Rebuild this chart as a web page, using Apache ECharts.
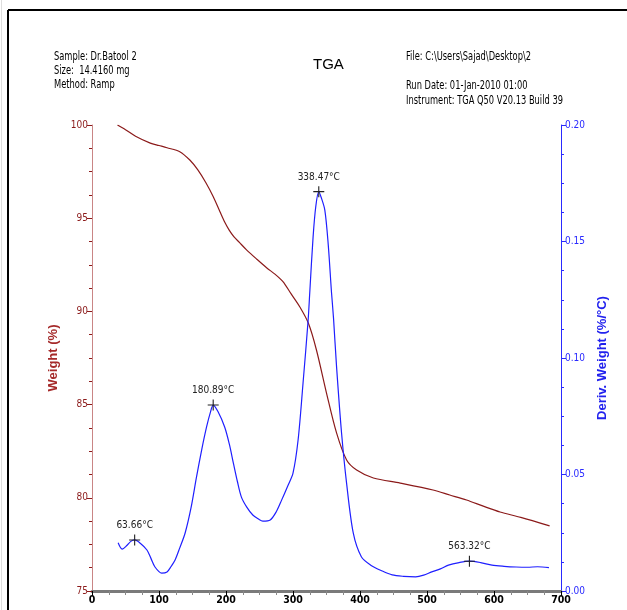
<!DOCTYPE html>
<html lang="en">
<head>
    <meta charset="UTF-8">
    <title>TGA</title>
    <style>
        html, body { margin: 0; padding: 0; background: #fff; }
        #main { width: 627px; height: 610px; }
    </style>
</head>
<body>
<div id="main"></div>
<script src="https://cdn.jsdelivr.net/npm/echarts@6/dist/echarts.min.js"></script>
<script>
    const myChart = echarts.init(document.getElementById('main'));
    const FONT = "'Liberation Sans Narrow', 'DejaVu Sans Condensed', 'Liberation Sans', sans-serif";

    // weight curve: temperature (°C) / weight (%)
    const weightTemp = [38, 50, 65, 87, 100, 112, 131, 146, 158, 170, 181, 191, 198, 205, 212, 220, 231, 246, 261, 273, 285, 297,
        310, 323, 335, 350, 365, 380, 395, 420, 460, 509, 534, 559, 584, 609, 640, 683];
    const weightVal = [100.0, 99.75, 99.4, 99.03, 98.9, 98.78, 98.57, 98.12, 97.59, 96.9, 96.15, 95.35, 94.8, 94.35, 94.0, 93.7, 93.29, 92.8, 92.33, 92.0, 91.6, 90.95,
        90.25, 89.36, 87.93, 85.62, 83.48, 82.03, 81.49, 81.06, 80.79, 80.42, 80.15, 79.88, 79.55, 79.24, 78.95, 78.49];

    // derivative curve: temperature (°C) / deriv. weight (%/°C)
    const derivTemp = [39, 45, 52, 58, 63.66, 72, 82, 88, 94, 104, 112, 118, 124, 131, 139, 148, 156, 164, 171, 177,
        180.89, 188, 198, 205, 211, 217, 223, 231, 240, 248, 255, 266, 275, 283, 292, 300, 307.6, 315, 322.6, 325,
        330, 334, 338.47, 342, 347.5, 352.5, 357.5, 360.5, 365, 372.5, 380, 390, 402, 416, 433, 448, 465, 483,
        495, 507, 520, 532, 548, 563.32, 580, 597, 615, 633, 650, 665, 682];
    const derivVal = [0.0207, 0.018, 0.0195, 0.0213, 0.0219, 0.0205, 0.0176, 0.014, 0.0103, 0.0077, 0.0082, 0.0105, 0.0133, 0.0185, 0.0249, 0.036, 0.049, 0.061, 0.0704, 0.077,
        0.0798, 0.077, 0.0704, 0.063, 0.0549, 0.047, 0.0403, 0.036, 0.0326, 0.031, 0.030, 0.0305, 0.034, 0.039, 0.045, 0.0506, 0.0648, 0.0893, 0.1163, 0.128,
        0.152, 0.165, 0.1714, 0.169, 0.1635, 0.149, 0.128, 0.117, 0.0963, 0.0677, 0.0462, 0.0248, 0.0147, 0.0111, 0.0086, 0.0069, 0.0063, 0.0061,
        0.0068, 0.0082, 0.0095, 0.0111, 0.0122, 0.0128, 0.0122, 0.0111, 0.0106, 0.0103, 0.0102, 0.0104, 0.0100];

    // labelled peaks
    const peakTemp = [63.66, 180.89, 338.47, 563.32];
    const peakVal = [0.0219, 0.0798, 0.1714, 0.0128];

    const headerLeft = ['Sample: Dr.Batool 2', 'Size:  14.4160 mg', 'Method: Ramp'];
    const headerRight = ['File: C:\\Users\\Sajad\\Desktop\\2', '', 'Run Date: 01-Jan-2010 01:00', 'Instrument: TGA Q50 V20.13 Build 39'];

    const weightData = weightTemp.map((t, i) => [t, weightVal[i]]);
    const derivData = derivTemp.map((t, i) => [t, derivVal[i]]);

    function headerLine(s, x, y) {
        return {
            type: 'text', x: x, y: y, scaleX: 0.77,
            style: {text: s, x: 0, y: 0, font: '12px ' + FONT, fill: '#000', verticalAlign: 'middle'}
        };
    }
    const headerText = [];
    headerLeft.forEach((s, i) => headerText.push(headerLine(s, 54, 57 + i * 14)));
    headerRight.forEach((s, i) => headerText.push(headerLine(s, 406, 57 + i * 14.5)));

    const option = {
        animation: false,
        backgroundColor: '#fff',
        textStyle: {fontFamily: FONT},
        graphic: [
            // page frame
            {type: 'line', shape: {x1: 8, y1: 10, x2: 627, y2: 10}, style: {stroke: '#000', lineWidth: 2}},
            {type: 'line', shape: {x1: 8, y1: 10, x2: 8, y2: 610}, style: {stroke: '#000', lineWidth: 2}},
            {type: 'line', shape: {x1: 1.5, y1: 0, x2: 1.5, y2: 610}, style: {stroke: '#ddd', lineWidth: 1}},
            {type: 'text', x: 313, y: 65, style: {text: 'TGA', x: 0, y: 0, font: '15px "Liberation Sans", Arial, sans-serif', fill: '#000', verticalAlign: 'middle'}},
            ...headerText
        ],
        grid: {left: 92, right: 66, top: 125, bottom: 19, containLabel: false, outerBoundsMode: 'none'},
        xAxis: [{
            type: 'value', min: 0, max: 700, interval: 100,
            axisLine: {show: true, onZero: false, lineStyle: {color: '#000', width: 1}},
            axisTick: {show: true, length: 5, lineStyle: {color: '#000'}},
            minorTick: {show: true, splitNumber: 4, length: 4, lineStyle: {color: '#888'}},
            splitLine: {show: false},
            axisLabel: {color: '#000', fontSize: 10.5, fontWeight: 'bold', margin: 4}
        }, {
            type: 'value', min: 0, max: 700, position: 'top',
            axisLine: {show: true, lineStyle: {color: '#7a7a7a', width: 3}},
            axisTick: {show: false}, axisLabel: {show: false}, splitLine: {show: false}
        }],
        yAxis: [{
            type: 'value', min: 75, max: 100, interval: 5, position: 'left',
            name: 'Weight (%)', nameLocation: 'middle', nameGap: 23, nameRotate: 90,
            nameTextStyle: {color: '#a52a2a', fontSize: 13, fontWeight: 'bold', fontFamily: 'Liberation Sans, Arial, sans-serif'},
            axisLine: {show: true, onZero: false, lineStyle: {color: '#c98585', width: 1}},
            axisTick: {show: true, length: 5, lineStyle: {color: '#8b1a1a'}},
            minorTick: {show: true, splitNumber: 4, length: 3, lineStyle: {color: '#8b1a1a'}},
            splitLine: {show: false},
            axisLabel: {color: '#8b1a1a', fontSize: 10, margin: 4}
        }, {
            type: 'value', min: 0, max: 0.2, interval: 0.05, position: 'right',
            name: 'Deriv. Weight (%/°C)', nameLocation: 'middle', nameGap: 32, nameRotate: 90,
            nameTextStyle: {color: '#2222ee', fontSize: 13, fontWeight: 'bold', fontFamily: 'Liberation Sans, Arial, sans-serif'},
            axisLine: {show: true, onZero: false, lineStyle: {color: '#2a2aff', width: 1}},
            axisTick: {show: true, length: 5, lineStyle: {color: '#2a2aff'}},
            minorTick: {show: true, splitNumber: 4, length: 3, lineStyle: {color: '#2a2aff'}},
            splitLine: {show: false},
            axisLabel: {color: '#2a2aff', fontSize: 10, margin: 4, formatter: v => v.toFixed(2)}
        }],
        series: [{
            name: 'Weight', type: 'line', xAxisIndex: 0, yAxisIndex: 0,
            data: weightData, smooth: 0.3, showSymbol: false,
            lineStyle: {color: '#8b1a1a', width: 1.2}
        }, {
            name: 'Deriv. Weight', type: 'line', xAxisIndex: 0, yAxisIndex: 1,
            data: derivData, smooth: 0.3, showSymbol: false,
            lineStyle: {color: '#1f1fff', width: 1.2},
            markPoint: {
                symbol: 'path://M0,4.5H10V5.5H0Z M4.5,0H5.5V10H4.5Z',
                symbolSize: 11,
                itemStyle: {color: '#222'},
                label: {
                    show: true, position: 'top', distance: 4,
                    color: '#222', fontSize: 10, fontFamily: FONT,
                    formatter: p => p.data.coord[0].toFixed(2) + '°C'
                },
                data: peakTemp.map((t, i) => ({coord: [t, peakVal[i]]}))
            }
        }]
    };

    myChart.setOption(option);
</script>
</body>
</html>
